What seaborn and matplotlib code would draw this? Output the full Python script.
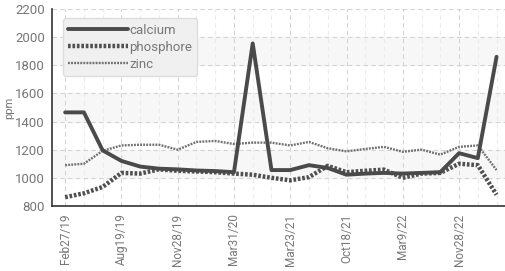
import pandas as pd
import matplotlib
matplotlib.use("Agg")
import matplotlib.pyplot as plt
import seaborn as sns
from matplotlib.ticker import MultipleLocator

# ============================================================
# Data
# ============================================================
dates = ["Feb27/19", "", "", "Aug19/19", "", "", "Nov28/19", "", "", "Mar31/20",
         "", "", "Mar23/21", "", "", "Oct18/21", "", "", "Mar9/22", "", "",
         "Nov28/22", "", ""]
calcium = [1465, 1465, 1195, 1120, 1080, 1065, 1060, 1052, 1048, 1040,
           1955, 1055, 1055, 1090, 1070, 1022, 1030, 1035, 1030, 1035,
           1040, 1175, 1140, 1860]
phosphore = [862, 890, 935, 1035, 1030, 1060, 1050, 1045, 1040, 1030,
             1022, 1000, 982, 1005, 1085, 1040, 1050, 1058, 1000, 1030,
             1035, 1100, 1090, 880]
zinc = [1090, 1100, 1192, 1230, 1235, 1235, 1200, 1255, 1262, 1240,
        1250, 1250, 1230, 1255, 1210, 1188, 1205, 1220, 1185, 1200,
        1165, 1220, 1230, 1055]

idx = list(range(len(dates)))
df = pd.DataFrame({"i": idx, "calcium": calcium, "phosphore": phosphore, "zinc": zinc})

# ============================================================
# Figure
# ============================================================
sns.set_style("white")
plt.rcParams["font.family"] = ["Roboto", "DejaVu Sans"]

fig = plt.figure(figsize=(5.05, 2.71), dpi=100)
ax = fig.add_axes([0.103, 0.24, 0.897, 0.727])

# faixas alternadas no fundo
for lo in (1000, 1400, 1800):
    ax.axhspan(lo, lo + 200, color="#f7f7f7", zorder=0)

sns.lineplot(data=df, x="i", y="calcium", ax=ax, color="#4a4a4a", lw=2.8,
             label="calcium", zorder=4)
sns.lineplot(data=df, x="i", y="phosphore", ax=ax, color="#505050", lw=3.2,
             linestyle=(0, (0.6, 0.4)), label="phosphore", zorder=3)
sns.lineplot(data=df, x="i", y="zinc", ax=ax, color="#707070", lw=1.7,
             linestyle=(0, (0.8, 0.5)), label="zinc", zorder=3)

ax.set_xlim(-0.7, 23.45)
ax.set_ylim(800, 2200)
ax.yaxis.set_major_locator(MultipleLocator(200))
ax.set_xticks([i for i in idx if dates[i]])
ax.set_xticklabels([d for d in dates if d], rotation=90)
ax.xaxis.set_minor_locator(MultipleLocator(1))

ax.grid(which="major", color="#d4d4d4", ls=(0, (4, 3)), lw=0.8)
ax.grid(which="minor", axis="x", color="#ececec", ls=(0, (4, 3)), lw=0.8)

for s in ("top", "right"):
    ax.spines[s].set_visible(False)
for s in ("left", "bottom"):
    ax.spines[s].set_color("#333333")
    ax.spines[s].set_linewidth(1.2)

ax.tick_params(axis="y", which="major", direction="out", length=4, color="#333333",
               labelsize=9.5, labelcolor="#777777", pad=1)
ax.tick_params(axis="x", which="major", direction="inout", length=7, color="#333333",
               labelsize=8.5, labelcolor="#777777", pad=2)
ax.tick_params(axis="x", which="minor", direction="inout", length=4, color="#555555")
ax.set_xlabel("")
ax.set_ylabel("ppm", color="#777777", fontsize=8, labelpad=1)

leg = ax.legend(loc="upper left", bbox_to_anchor=(0.01, 0.985), fontsize=9.5,
                handlelength=4.5, handletextpad=0.1, labelspacing=0.3,
                borderpad=0.4, fancybox=True, framealpha=1,
                facecolor="#f0f0f0", edgecolor="#dddddd")
for t in leg.get_texts():
    t.set_color("#777777")

fig.savefig("out.png", dpi=100)
